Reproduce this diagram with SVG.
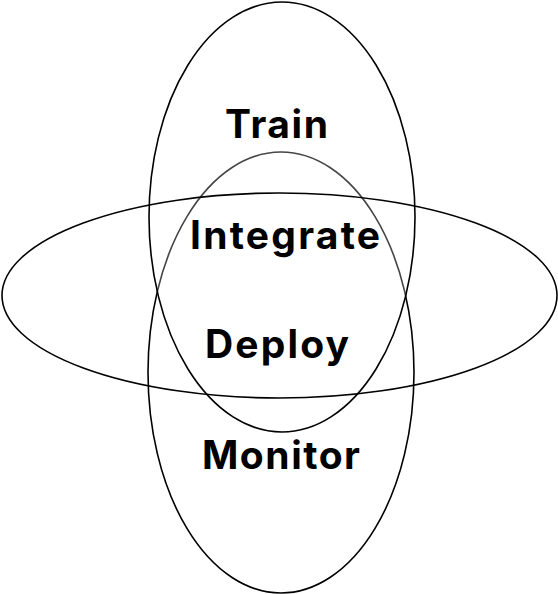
<svg xmlns="http://www.w3.org/2000/svg" width="558" height="594" viewBox="0 0 558 594">
<style>
.o{stroke:#000;stroke-width:1.6}
.t{font-family:Inter,"Noto Sans","Liberation Sans",sans-serif;font-weight:700;font-size:39px;fill:#000;text-anchor:middle}
</style>
<rect width="558" height="594" fill="#fff"/>
<g id="connectors"></g>
<g id="monitor"><ellipse class="o" cx="281" cy="372.5" rx="133" ry="220.5" fill="none"/></g>
<g id="train"><ellipse class="o" cx="282" cy="217" rx="133" ry="215" fill="#fff" fill-opacity="0.27"/></g>
<g id="deploy"><ellipse class="o" cx="279.5" cy="295.5" rx="277.5" ry="102.5" fill="none"/></g>
<g id="labels">
<text class="t" x="276.5" y="138" textLength="103" lengthAdjust="spacing">Train</text>
<text class="t" x="285" y="249" textLength="190" lengthAdjust="spacing">Integrate</text>
<text class="t" x="277" y="358" textLength="144" lengthAdjust="spacing">Deploy</text>
<text class="t" x="281" y="469" textLength="158" lengthAdjust="spacing">Monitor</text>
</g>
</svg>
